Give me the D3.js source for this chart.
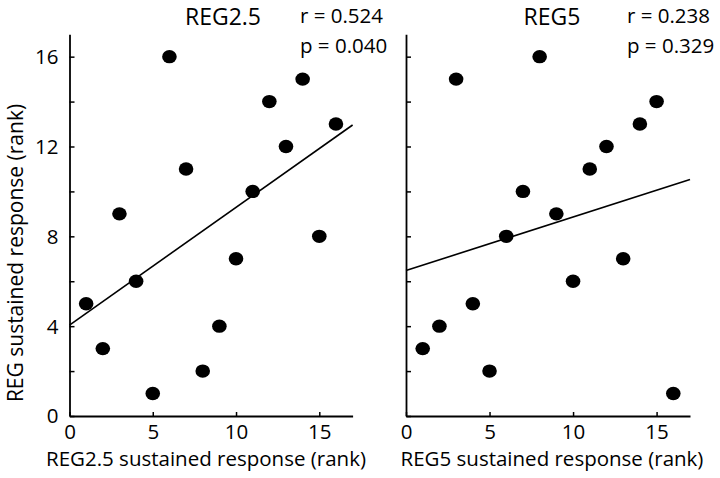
<!DOCTYPE html>
<html><head><meta charset="utf-8">
<script src="https://cdn.jsdelivr.net/npm/d3@7"></script>
<style>
body{margin:0;background:#fff;}
svg text{font-family:"Open Sans",sans-serif;fill:#000;}
</style></head>
<body><svg id="c" width="720" height="478"></svg>
<script>
const xRank = [1,2,3,4,5,6,7,8,9,10,11,12,13,14,15,16];
const yReg25 = [5,3,9,6,1,16,11,2,4,7,10,14,12,15,8,13];
const yReg5 = [3,4,15,5,2,8,10,16,9,6,11,12,7,13,14,1];
const panelTitles = ["REG2.5","REG5"];
const rTexts = ["r = 0.524","r = 0.238"];
const pTexts = ["p = 0.040","p = 0.329"];
const fitIntercepts = [4.05, 6.48];
const fitSlopes = [0.524, 0.238];
const xTitles = ["REG2.5 sustained response (rank)","REG5 sustained response (rank)"];
const yTitle = "REG sustained response (rank)";
const xTicks = [0,5,10,15];
const yTicks = [0,2,4,6,8,10,12,14,16];

const svg = d3.select("#c");
const panels = [
  {x0:69.5, x1:352.6, ys:yReg25, showY:true, tx:223, rx:300, xt:206},
  {x0:406, x1:690, ys:yReg5, showY:false, tx:552, rx:627, xt:552}
];
const y = d3.scaleLinear().domain([0,17]).range([416,34.2]);

panels.forEach((p,i)=>{
  const x = d3.scaleLinear().domain([0,17]).range([p.x0,p.x1]);
  const g = svg.append("g");
  const ax = d3.axisBottom(x).tickValues(xTicks).tickSizeInner(-4).tickSizeOuter(0).tickPadding(8);
  const gx = g.append("g").attr("transform","translate(0,416)").call(ax);
  const ay = d3.axisLeft(y).tickValues(yTicks).tickSizeInner(-5).tickSizeOuter(0).tickPadding(11)
     .tickFormat(d => (p.showY && d%4===0) ? d : "");
  const gy = g.append("g").attr("transform",`translate(${p.x0},0)`).call(ay);
  [gx,gy].forEach(a=>{
    a.select(".domain").attr("stroke","#000").attr("stroke-width",1.8);
    a.selectAll(".tick line").attr("stroke","#000").attr("stroke-width",1.5);
    a.selectAll(".tick text").style("font-size","20.5px").attr("fill","#000");
  });
  gy.selectAll(".tick text").attr("dy","0.34em");
  gx.selectAll(".tick text").attr("dy","0.71em");
  const a0 = fitIntercepts[i], b = fitSlopes[i];
  g.append("line").attr("x1",x(0)).attr("y1",y(a0)).attr("x2",x(17)).attr("y2",y(a0+b*17))
    .attr("stroke","#000").attr("stroke-width",1.6);
  g.selectAll("ellipse.pt").data(xRank.map((v,k)=>[v,p.ys[k]])).enter().append("ellipse")
    .attr("cx",d=>x(d[0])).attr("cy",d=>y(d[1])).attr("rx",7.3).attr("ry",6.7).attr("fill","#000");
  g.append("text").attr("x",p.tx).attr("y",24.5).attr("text-anchor","middle").style("font-size","23px").text(panelTitles[i]);
  g.append("text").attr("x",p.rx).attr("y",22.5).style("font-size","20.5px").text(rTexts[i]);
  g.append("text").attr("x",p.rx).attr("y",53).style("font-size","20.5px").text(pTexts[i]);
  g.append("text").attr("x",p.xt).attr("y",466).attr("text-anchor","middle").style("font-size","20.5px").text(xTitles[i]);
});
svg.append("text").attr("transform","translate(23,253) rotate(-90)").attr("text-anchor","middle").style("font-size","21px").text(yTitle);
</script></body></html>
